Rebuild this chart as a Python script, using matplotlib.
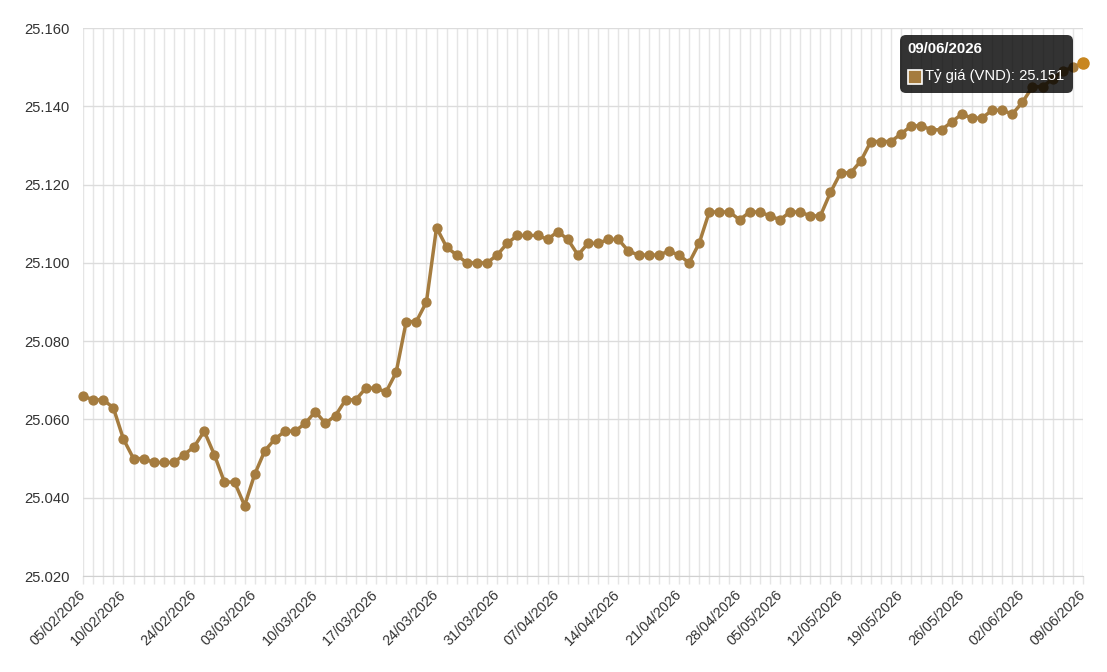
#!/usr/bin/env python3
"""Tỷ giá (VND) line chart, 05/02/2026 - 09/06/2026."""

import matplotlib

matplotlib.use("Agg")

import matplotlib.pyplot as plt
import numpy as np
import pandas as pd
from matplotlib.patches import FancyBboxPatch, Rectangle
from matplotlib.ticker import FuncFormatter
from matplotlib.transforms import IdentityTransform

# trading days (Mon-Sat), Tet and 30/04-01/05 closed
START = "2026-02-05"
END = "2026-06-09"
HOLIDAYS = ["2026-02-16", "2026-02-17", "2026-02-18", "2026-02-19",
            "2026-02-20", "2026-04-30", "2026-05-01"]

rates = [
    25066, 25065, 25065, 25063, 25055, 25050, 25050, 25049, 25049, 25049,
    25051, 25053, 25057, 25051, 25044, 25044, 25038, 25046, 25052, 25055,
    25057, 25057, 25059, 25062, 25059, 25061, 25065, 25065, 25068, 25068,
    25067, 25072, 25085, 25085, 25090, 25109, 25104, 25102, 25100, 25100,
    25100, 25102, 25105, 25107, 25107, 25107, 25106, 25108, 25106, 25102,
    25105, 25105, 25106, 25106, 25103, 25102, 25102, 25102, 25103, 25102,
    25100, 25105, 25113, 25113, 25113, 25111, 25113, 25113, 25112, 25111,
    25113, 25113, 25112, 25112, 25118, 25123, 25123, 25126, 25131, 25131,
    25131, 25133, 25135, 25135, 25134, 25134, 25136, 25138, 25137, 25137,
    25139, 25139, 25138, 25141, 25145, 25145, 25147, 25149, 25150, 25151,
]

y_ticks = [25020, 25040, 25060, 25080, 25100, 25120, 25140, 25160]
series_label = "Tỷ giá (VND)"

LINE = "#a57c3f"
HOVER = "#c8861f"
GRID = "#e5e5e5"
TEXT = "#333333"

W, H = 1107, 672


def main() -> None:
    plt.rcParams["font.family"] = ["Liberation Sans", "DejaVu Sans"]

    dates = pd.bdate_range(START, END, freq="C",
                           weekmask="Mon Tue Wed Thu Fri Sat",
                           holidays=HOLIDAYS)
    labels = [d.strftime("%d/%m/%Y") for d in dates]
    x = np.arange(len(rates))

    fig = plt.figure(figsize=(W / 100, H / 100), dpi=100)
    ax = fig.add_axes([83 / W, 1 - 576 / H, 1000 / W, 548 / H])

    ax.plot(x, rates, color=LINE, lw=2.5, marker="o", ms=6.4,
            mfc=LINE, mec=LINE, clip_on=False, zorder=3,
            solid_joinstyle="round")

    ax.set_xlim(0, len(rates) - 1)
    ax.set_ylim(y_ticks[0], y_ticks[-1])
    ax.set_yticks(y_ticks)
    ax.yaxis.set_major_formatter(FuncFormatter(lambda v, _: f"{v / 1000:.3f}"))

    shown = [i for i, d in enumerate(dates) if i == 0 or d.dayofweek == 1]
    ax.set_xticks(x, minor=True)
    ax.set_xticks(shown)
    ax.set_xticklabels([labels[i] for i in shown], rotation=45,
                       ha="right", va="center", rotation_mode="anchor")

    ax.tick_params(axis="x", which="both", length=6, color=GRID, width=1,
                   pad=6, labelsize=10.4, labelcolor=TEXT)
    ax.tick_params(axis="y", length=0, pad=9.5, labelsize=10.6,
                   labelcolor=TEXT)
    ax.grid(True, axis="x", which="both", color=GRID, lw=1)
    ax.grid(True, axis="y", color="#dcdcdc", lw=1)
    ax.set_axisbelow(True)
    for side in ("top", "right", "left"):
        ax.spines[side].set_visible(False)
    ax.spines["bottom"].set_color("#d0d0d0")

    # hovered last point and its tooltip
    ax.plot(x[-1], rates[-1], "o", ms=8, color=HOVER, clip_on=False, zorder=6)

    ident = IdentityTransform()
    box = FancyBboxPatch((900, H - 93), 173, 58,
                         boxstyle="round,pad=0,rounding_size=6",
                         transform=ident, fc=(0, 0, 0, 0.8), ec="none",
                         zorder=5)
    fig.add_artist(box)
    fig.add_artist(Rectangle((908, H - 84), 14, 14, transform=ident,
                             fc=LINE, ec="white", lw=1.2, zorder=6))
    fig.text(907, H - 49, labels[-1], transform=ident, color="white",
             fontsize=10.8, fontweight="bold", va="center", ha="left",
             zorder=6)
    fig.text(925, H - 76, f"{series_label}: {rates[-1] / 1000:.3f}",
             transform=ident, color="white", fontsize=10.6, va="center",
             ha="left", zorder=6)

    fig.savefig("out.png", dpi=100)
    plt.close(fig)


if __name__ == "__main__":
    main()
